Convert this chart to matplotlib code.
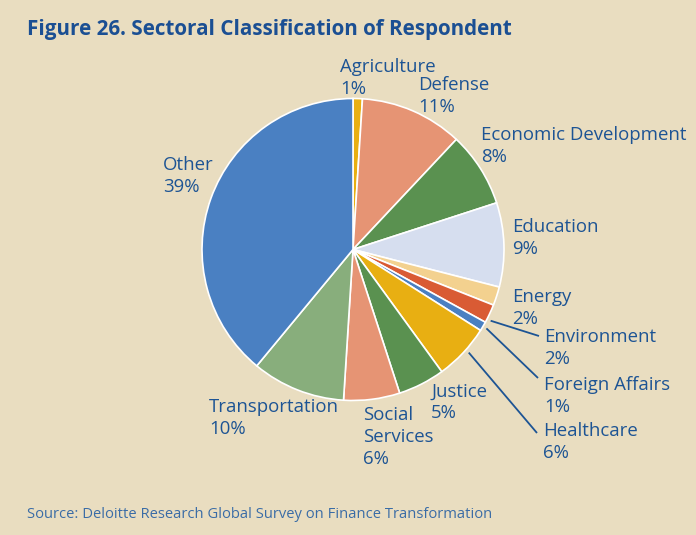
import numpy as np
import matplotlib.pyplot as plt

W, H = 696, 535

sectors = ['Agriculture', 'Defense', 'Economic Development', 'Education', 'Energy',
           'Environment', 'Foreign Affairs', 'Healthcare', 'Justice',
           'Social\nServices', 'Transportation', 'Other']
shares = [1, 11, 8, 9, 2, 2, 1, 6, 5, 6, 10, 39]
colors = ['#E8AF12', '#E69474', '#5A9150', '#D6DEEF', '#F3D18F', '#D95B34',
          '#4A80C2', '#E8AF12', '#5A9150', '#E69474', '#88AE7C', '#4A80C2']

# left edge and cap top of each label's first line, pixels from the top
label_pos = [(340, 58), (418, 77), (481, 127), (512, 218), (512, 288),
             (544, 329), (544, 377), (543, 423), (431, 383), (363, 407),
             (209, 399), (163, 157)]

# leader lines for the thin slices: (where along the wedge, label end)
leaders = {5: (0.8, (539, 336)), 6: (0.5, (538, 378)), 7: (0.43, (537, 433))}

BG = '#E9DDC0'
TXT = '#1D5494'
CX, CY, R = 353, 249.5, 151
CAP, PITCH = 13.5, 22


def py(y):
    return H - y


fig = plt.figure(figsize=(W / 100, H / 100), dpi=100, facecolor=BG)
ax = fig.add_axes([0, 0, 1, 1])
ax.set_facecolor(BG)

wedges, _ = ax.pie(shares, colors=colors, startangle=90, counterclock=False,
                   center=(CX, py(CY)), radius=R,
                   wedgeprops=dict(edgecolor='white', linewidth=1.2))

# one text per line so the label boxes stay tight
for i, (name, val) in enumerate(zip(sectors, shares)):
    x, y = label_pos[i]
    lines = name.split('\n') + [f'{val}%']
    for k, line in enumerate(lines):
        ax.text(x, py(y + CAP + k * PITCH), line, ha='left', va='baseline',
                fontsize=13.45, family='Open Sans', color=TXT)

for i, (frac, (x1, y1)) in leaders.items():
    w = wedges[i]
    # counterclock=False: theta2 is where the wedge starts going clockwise
    ang = np.deg2rad(w.theta2 - frac * (w.theta2 - w.theta1))
    x0 = CX + (R + 4) * np.cos(ang)
    y0 = py(CY) + (R + 4) * np.sin(ang)
    ax.plot([x0, x1], [y0, py(y1)], color=TXT, lw=1.3, solid_capstyle='butt')

ax.text(27, py(29), 'Figure 26. Sectoral Classification of Respondent',
        ha='left', va='center', fontsize=14.85, fontweight='bold',
        family='Open Sans', color='#1B4F93')
ax.text(27, py(515), 'Source: Deloitte Research Global Survey on Finance Transformation',
        ha='left', va='center', fontsize=10.67, family='Open Sans', color='#3A6CA6')

ax.set_xlim(0, W)
ax.set_ylim(0, H)
ax.set_aspect('equal')
ax.axis('off')

fig.savefig('out.png', dpi=100, facecolor=BG)
